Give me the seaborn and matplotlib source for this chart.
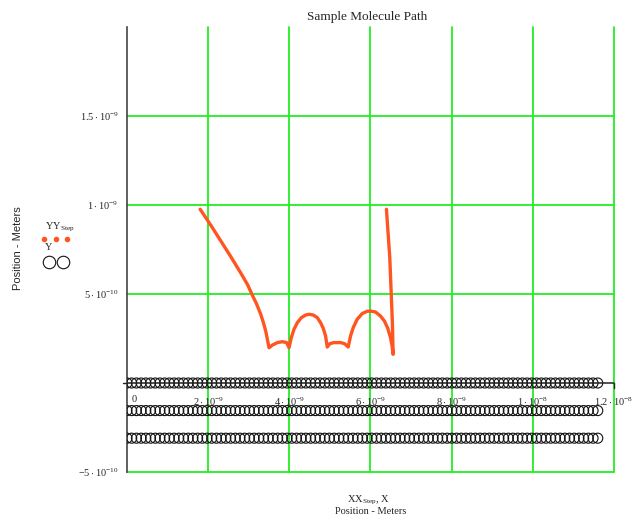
import numpy as np
import pandas as pd
import matplotlib
matplotlib.use("Agg")
import matplotlib.pyplot as plt
from matplotlib.lines import Line2D
import seaborn as sns

# Path of the tracked molecule (metres)
XX_step = [1.803e-9, 2.066e-9, 2.311e-9, 2.557e-9, 2.803e-9, 2.967e-9, 3.090e-9, 3.197e-9,
           3.295e-9, 3.361e-9, 3.418e-9, 3.459e-9, 3.500e-9,
           3.582e-9, 3.705e-9, 3.828e-9, 3.934e-9, 3.992e-9,
           4.049e-9, 4.115e-9, 4.197e-9, 4.295e-9, 4.402e-9, 4.484e-9, 4.590e-9, 4.689e-9,
           4.770e-9, 4.836e-9, 4.893e-9, 4.934e-9,
           5.000e-9, 5.098e-9, 5.262e-9, 5.361e-9, 5.451e-9,
           5.508e-9, 5.574e-9, 5.672e-9, 5.795e-9, 5.918e-9, 6.000e-9, 6.123e-9, 6.246e-9,
           6.344e-9, 6.426e-9, 6.492e-9, 6.533e-9, 6.557e-9,
           6.541e-9, 6.508e-9, 6.475e-9, 6.430e-9, 6.393e-9]
YY_step = [0.976e-9, 0.886e-9, 0.798e-9, 0.710e-9, 0.618e-9, 0.554e-9, 0.493e-9, 0.442e-9,
           0.386e-9, 0.339e-9, 0.292e-9, 0.245e-9, 0.198e-9,
           0.213e-9, 0.227e-9, 0.232e-9, 0.227e-9, 0.198e-9,
           0.255e-9, 0.302e-9, 0.339e-9, 0.367e-9, 0.382e-9, 0.386e-9, 0.382e-9, 0.367e-9,
           0.339e-9, 0.307e-9, 0.264e-9, 0.202e-9,
           0.221e-9, 0.227e-9, 0.227e-9, 0.221e-9, 0.202e-9,
           0.264e-9, 0.311e-9, 0.358e-9, 0.390e-9, 0.403e-9, 0.404e-9, 0.399e-9, 0.376e-9,
           0.348e-9, 0.307e-9, 0.255e-9, 0.208e-9, 0.161e-9,
           0.330e-9, 0.517e-9, 0.704e-9, 0.854e-9, 0.976e-9]

# Lattice of stationary molecules: three rows
X = np.arange(0.0, 1.1601e-8, 1.16e-10)
row_levels = [0.0, -1.55e-10, -3.1e-10]

x_ticks = [0, 2e-9, 4e-9, 6e-9, 8e-9, 1e-8, 1.2e-8]
x_tick_labels = ["0", r"$2\cdot10^{-9}$", r"$4\cdot10^{-9}$", r"$6\cdot10^{-9}$",
                 r"$8\cdot10^{-9}$", r"$1\cdot10^{-8}$", r"$1.2\cdot10^{-8}$"]
y_ticks = [-5e-10, 5e-10, 1e-9, 1.5e-9]
y_tick_labels = [r"$-5\cdot10^{-10}$", r"$5\cdot10^{-10}$", r"$1\cdot10^{-9}$", r"$1.5\cdot10^{-9}$"]

sns.set_style("white")
plt.rcParams["font.family"] = ["Liberation Serif", "DejaVu Serif"]
plt.rcParams["mathtext.fontset"] = "custom"
plt.rcParams["mathtext.rm"] = "Liberation Serif"
plt.rcParams["mathtext.it"] = "Liberation Serif"

path_color = "#ff5520"
grid_color = "#22ee22"

fig = plt.figure(figsize=(6.32, 5.27), dpi=100)
ax = fig.add_axes([127 / 632, 1 - 472 / 527, (614 - 127) / 632, (472 - 27) / 527])

lattice = pd.DataFrame({
    "x": np.tile(X, len(row_levels)),
    "y": np.repeat(row_levels, len(X)),
})
path = pd.DataFrame({"x": XX_step, "y": YY_step})

ax.set_xlim(0, 1.2e-8)
ax.set_ylim(-5e-10, 2e-9)

# grid lines
for xv in x_ticks[1:]:
    ax.axvline(xv, color=grid_color, lw=1.3, zorder=0, clip_on=False)
for yv in y_ticks:
    ax.axhline(yv, color=grid_color, lw=1.3, zorder=0, clip_on=False)

sns.scatterplot(data=lattice, x="x", y="y", ax=ax, marker="o", s=52,
                facecolors="none", edgecolor="#111111", linewidth=0.8,
                legend=False, zorder=3)
sns.lineplot(data=path, x="x", y="y", ax=ax, sort=False, estimator=None,
             color=path_color, lw=2.4, legend=False, zorder=4)

# axis lines
ax.axhline(0, color="#222222", lw=1.1, zorder=5)
for s in ["top", "right", "bottom"]:
    ax.spines[s].set_visible(False)
ax.spines["left"].set_color("#444444")
ax.spines["left"].set_linewidth(1.2)

ax.set_xticks([])
ax.set_yticks(y_ticks)
ax.set_yticklabels(y_tick_labels, fontsize=7.5)
ax.tick_params(axis="y", direction="inout", length=6, width=1.0, color="#444444", pad=3)
ax.set_xlabel("")
ax.set_ylabel("")

# x tick labels drawn along the zero axis
for xv, lab in zip(x_ticks, x_tick_labels):
    ha = "left" if xv == 0 else "center"
    ax.annotate(lab, (xv, 0), xytext=(3 if xv == 0 else 0, -9), textcoords="offset points",
                ha=ha, va="top", fontsize=7.5, annotation_clip=False)
ax.plot([1.2e-8, 1.2e-8], [0, -0.3e-10], color="#222222", lw=1.0, clip_on=False, zorder=5)
ax.plot([-1.0e-10, 0], [0, 0], color="#222222", lw=1.0, clip_on=False, zorder=5)

fig.text(367 / 632, 1 - 17 / 527, "Sample Molecule Path", ha="center", va="center", fontsize=9.5)
fig.text(368 / 632, 1 - 500 / 527, r"XX$_{\mathrm{Step}}$, X", ha="center", va="center", fontsize=7.5)
fig.text(371 / 632, 1 - 512 / 527, "Position - Meters", ha="center", va="center", fontsize=7.5)
fig.text(18 / 632, 1 - 248 / 527, "Position - Meters", rotation=90, ha="center", va="center",
         fontsize=8, family=["Liberation Sans", "DejaVu Sans"])

# legend
fig.text(60 / 632, 1 - 227 / 527, r"YY$_{\mathrm{Step}}$", ha="center", va="center", fontsize=7.5)
fig.add_artist(Line2D([44 / 632, 56 / 632, 67 / 632], [1 - 239 / 527] * 3, ls="none",
                      marker="o", ms=3, color=path_color, transform=fig.transFigure))
fig.text(49 / 632, 1 - 248 / 527, "Y", ha="center", va="center", fontsize=7.5)
fig.add_artist(Line2D([49 / 632, 63 / 632], [1 - 262 / 527] * 2, ls="none",
                      marker="o", ms=9, mfc="none", mec="#111111", mew=0.8,
                      transform=fig.transFigure))

fig.savefig("out.png", dpi=100)
